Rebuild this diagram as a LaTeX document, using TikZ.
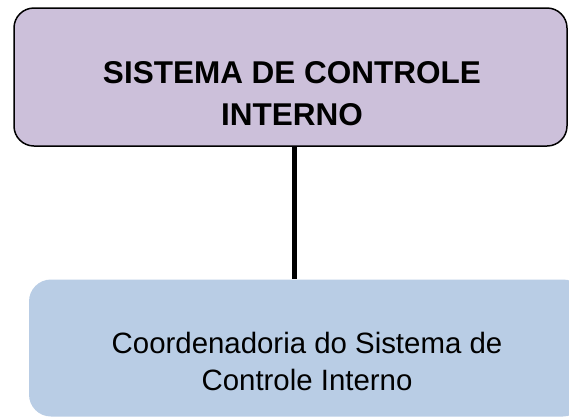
\documentclass[tikz,border=0pt]{standalone}
\usepackage{fontspec}
\setmainfont{Liberation Sans}
\definecolor{topfill}{HTML}{CCC0DA}
\definecolor{botfill}{HTML}{B9CDE5}
\tikzset{
  topbox/.style={draw=black, line width=1.5pt, fill=topfill, rounded corners=20pt, minimum width=553pt, minimum height=138pt, inner sep=0pt},
  botbox/.style={fill=botfill, rounded corners=22pt, minimum width=556pt, minimum height=137pt, inner sep=0pt},
  toptext/.style={font=\fontsize{31.5}{42}\selectfont\bfseries, align=center, inner sep=0pt},
  bottext/.style={font=\fontsize{29.4}{37}\selectfont, align=center, inner sep=0pt},
  link/.style={line width=5.7pt, draw=black}
}
\begin{document}
\begin{tikzpicture}[x=1pt,y=-1pt]
\useasboundingbox (0,0) rectangle (569,416);
\node[topbox] (top) at (290.5,77) {};
\node[botbox] (bot) at (307,348) {};
\draw[link] ([xshift=4pt]top.south) -- ([xshift=4pt]top.south |- bot.north);
\node[toptext, anchor=base] (toplbl) at (292,125) {SISTEMA DE CONTROLE\\INTERNO};
\node[bottext, anchor=base] (botlbl) at (307,390) {Coordenadoria do Sistema de\\Controle Interno};
\end{tikzpicture}
\end{document}
